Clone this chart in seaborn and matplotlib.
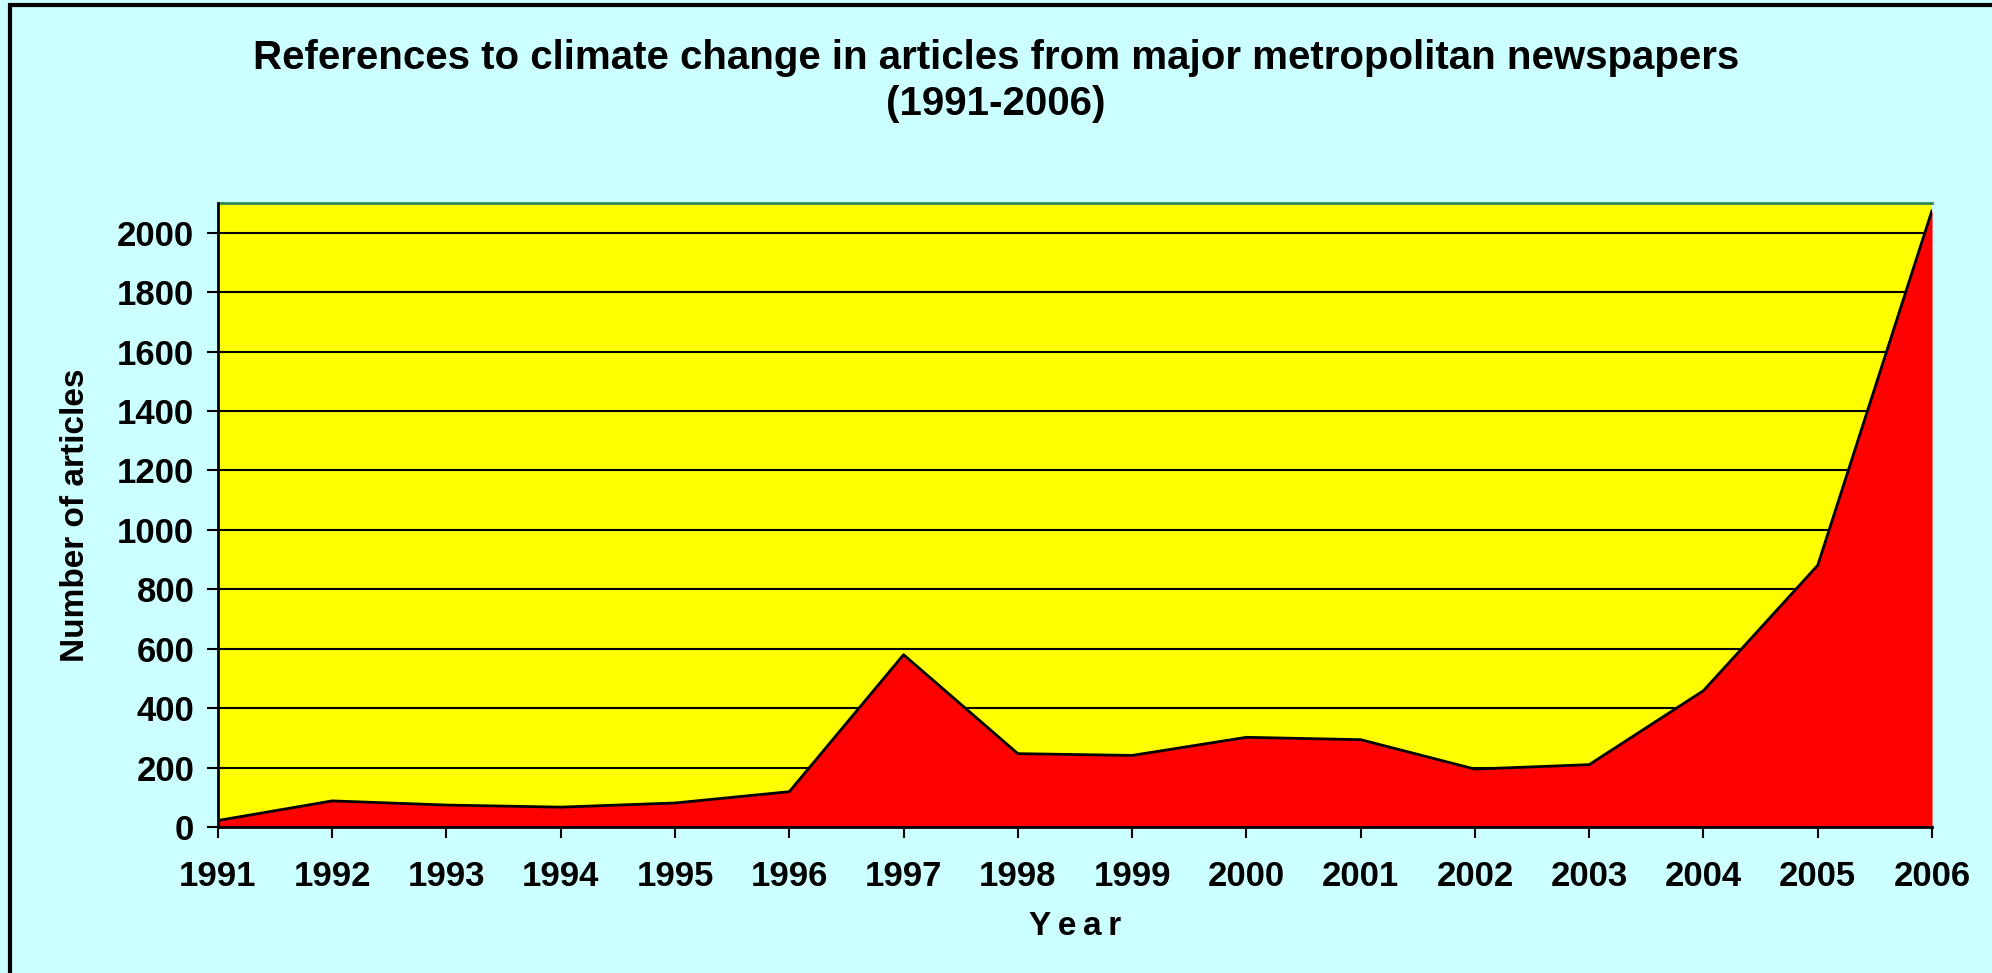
import matplotlib
matplotlib.use('Agg')
import matplotlib.pyplot as plt
import seaborn as sns
import pandas as pd

# data
years = [1991, 1992, 1993, 1994, 1995, 1996, 1997, 1998,
         1999, 2000, 2001, 2002, 2003, 2004, 2005, 2006]
articles = [22, 88, 74, 67, 81, 119, 580, 247,
            241, 302, 294, 195, 210, 459, 881, 2075]
y_ticks = [0, 200, 400, 600, 800, 1000, 1200, 1400, 1600, 1800, 2000]

df = pd.DataFrame({'Year': years, 'Articles': articles})

sns.set_style('white')
plt.rcParams['font.family'] = ['Liberation Sans', 'DejaVu Sans']
plt.rcParams['font.weight'] = 'bold'
plt.rcParams['text.color'] = 'black'
plt.rcParams['axes.labelcolor'] = 'black'
plt.rcParams['xtick.color'] = 'black'
plt.rcParams['ytick.color'] = 'black'

bg = '#ccffff'
fig = plt.figure(figsize=(19.92, 9.73), dpi=100, facecolor=bg)
ax = fig.add_axes([0.1094, 0.150, 0.8605, 0.6414])
ax.set_facecolor('#ffff00')

# filled area + outline
ax.fill_between(df['Year'], df['Articles'], 0, color='#ff0000', zorder=3, linewidth=0)
sns.lineplot(data=df, x='Year', y='Articles', ax=ax, color='black', linewidth=2, zorder=4)

ax.set_xlim(years[0], years[-1])
ax.set_ylim(0, 2100)
ax.set_yticks(y_ticks)
ax.set_xticks(years)
ax.set_xticklabels([str(y) for y in years])
ax.grid(axis='y', color='black', linewidth=1.5, zorder=2)
ax.set_axisbelow(True)

ax.tick_params(axis='both', labelsize=25, length=8, width=1.5, color='black', direction='out')
ax.tick_params(axis='x', pad=16, bottom=True)
ax.tick_params(axis='y', pad=9, left=True)
for lab in ax.get_xticklabels() + ax.get_yticklabels():
    lab.set_fontweight('bold')

for side in ['left', 'bottom']:
    ax.spines[side].set_color('black')
    ax.spines[side].set_linewidth(2)
    ax.spines[side].set_zorder(5)
ax.spines['right'].set_visible(False)
ax.spines['top'].set_color('#2e8b57')
ax.spines['top'].set_linewidth(2)

ax.set_xlabel('Y\u2009e\u2009a\u2009r', fontsize=24, fontweight='bold', labelpad=13)
ax.set_ylabel('Number of articles', fontsize=24, fontweight='bold', labelpad=19)

fig.text(0.5, 0.940, 'References to climate change in articles from major metropolitan newspapers',
         ha='center', va='center', fontsize=29, fontweight='bold')
fig.text(0.5, 0.893, '(1991-2006)', ha='center', va='center', fontsize=29, fontweight='bold')

# outer frame
frame = plt.Rectangle((10 / 1992, -0.05), 1.1, 1 - 5 / 973 + 0.05, transform=fig.transFigure,
                      fill=False, edgecolor='black', linewidth=3)
fig.patches.append(frame)

fig.savefig('out.png', dpi=100, facecolor=bg)
